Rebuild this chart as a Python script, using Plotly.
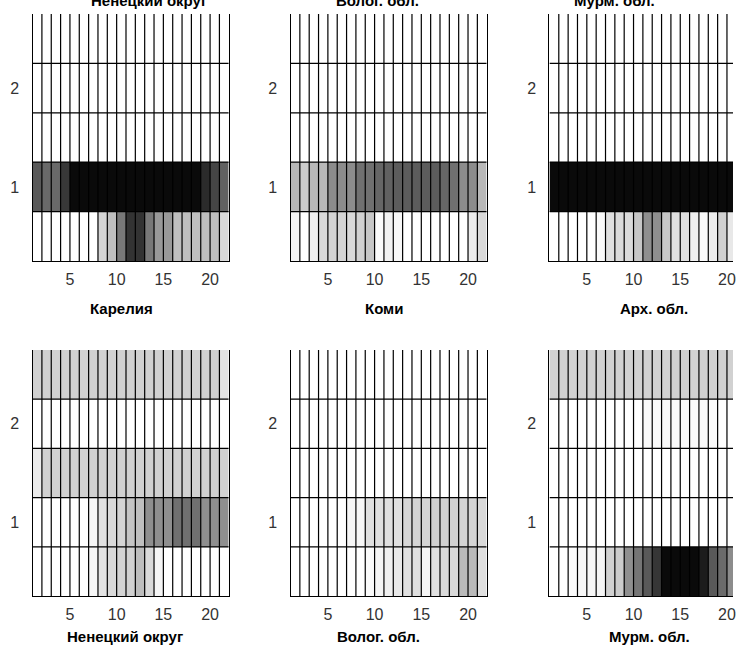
import plotly.graph_objects as go

# ---------------- data ----------------
# darkness in percent (0 = white, 100 = black); rows listed top -> bottom (y = 2.5, 2, 1.5, 1, 0.5)
x_edges = list(range(1, 23))
y_edges = [0.25, 0.75, 1.25, 1.75, 2.25, 2.75]
x_ticks = [5, 10, 15, 20]
y_ticks = [1, 2]

top_titles = ["Ненецкий округ", "Волог. обл.", "Мурм. обл."]
mid_titles = ["Карелия", "Коми", "Арх. обл."]
bottom_titles = ["Ненецкий округ", "Волог. обл.", "Мурм. обл."]

nenets_top = [
    [0] * 21,
    [0] * 21,
    [0] * 21,
    [65, 59, 59, 78] + [96] * 14 + [83, 73, 62],
    [0] * 7 + [17, 25, 53, 80, 80, 53, 40, 40] + [25] * 5 + [15],
]
vologda_top = [
    [0] * 21,
    [0] * 21,
    [0] * 21,
    [28, 20, 28, 28, 45, 45, 45, 56, 56, 60, 62, 64, 64, 64, 64, 64, 60, 56, 45, 45, 28],
    [4, 0, 6, 15, 17, 17, 15, 18, 22, 2, 5, 3, 0, 0, 0, 0, 0, 0, 0, 8, 15],
]
murmansk_top = [
    [0] * 21,
    [0] * 21,
    [0] * 21,
    [96] * 21,
    [0, 0, 0, 0, 0, 2, 12, 14, 14, 22, 44, 44, 22, 12, 12, 6, 2, 7, 18, 9, 12],
]
karelia = [
    [18] * 20 + [11],
    [0] * 21,
    [8] + [18] * 20,
    [0] * 6 + [3, 12, 15, 17, 23, 25, 44, 44, 44, 56, 56, 56, 44, 44, 44],
    [0] * 6 + [3, 11, 15, 17, 18, 26, 15, 4] + [0] * 7,
]
komi = [
    [0] * 21,
    [0] * 21,
    [0] * 21,
    [0] * 6 + [3, 3, 12, 12, 12, 12, 16, 17, 17, 18, 18, 18, 17, 17, 15],
    [0] * 8 + [2, 4, 6, 9, 12, 12, 4, 12, 14, 15, 27, 27, 12],
]
arkh = [
    [18] * 21,
    [0] * 10 + [2] * 8 + [0] * 3,
    [0] * 21,
    [0] * 21,
    [0, 0, 2, 3, 3, 4, 18, 20, 44, 54, 65, 79, 96, 96, 96, 96, 89, 65, 58, 45, 31],
]
panels = [nenets_top, vologda_top, murmansk_top, karelia, komi, arkh]

# ---------------- layout geometry (pixels) ----------------
W, H = 736, 645
col_px = [(32.7, 229.7), (291.7, 488.7), (551.7, 748.7)]
row_px = [(14.0, 261.0), (350.0, 596.0)]
ncols = len(x_edges) - 1

fig = go.Figure()
layout = dict(width=W, height=H, margin=dict(l=0, r=0, t=0, b=0),
              paper_bgcolor="white", plot_bgcolor="white", showlegend=False)

tick_font = dict(family="Liberation Sans, Arial, sans-serif", size=16, color="#333333")
line_col = "#000000"

for i, z in enumerate(panels):
    r, c = divmod(i, 3)
    k = i + 1
    xs = "" if k == 1 else str(k)
    x0, x1 = col_px[c]
    y0, y1 = row_px[r]
    x1v = min(x1, W)
    cell = (x1 - x0) / ncols
    xmax = x_edges[0] + (x1v - x0) / cell

    fig.add_trace(go.Heatmap(
        z=z[::-1], x=x_edges, y=y_edges,
        colorscale=[[0, "#ffffff"], [1, "#000000"]], zmin=0, zmax=100,
        showscale=False, hoverinfo="skip",
        xaxis="x" + xs, yaxis="y" + xs))

    gx, gy = [], []
    for xe in x_edges[1:-1]:
        gx += [xe, xe, None]
        gy += [y_edges[0], y_edges[-1], None]
    for ye in y_edges[1:-1]:
        gx += [x_edges[0], x_edges[-1], None]
        gy += [ye, ye, None]
    fig.add_trace(go.Scatter(x=gx, y=gy, mode="lines",
                             line=dict(color=line_col, width=1.2),
                             hoverinfo="skip", xaxis="x" + xs, yaxis="y" + xs))

    layout["xaxis" + xs] = dict(
        domain=[x0 / W, x1v / W], range=[x_edges[0], xmax], anchor="y" + xs,
        tickvals=x_ticks, ticktext=[str(t) for t in x_ticks],
        showgrid=False, zeroline=False, showline=True, linecolor=line_col,
        linewidth=1.2, ticks="", tickfont=tick_font, ticklabelstandoff=4,
        ticklabeloverflow="allow")
    layout["yaxis" + xs] = dict(
        domain=[1 - y1 / H, 1 - y0 / H], range=[y_edges[0], y_edges[-1]],
        anchor="x" + xs, tickvals=y_ticks, ticktext=[str(t) for t in y_ticks],
        showgrid=False, zeroline=False, showline=True, mirror=(c < 2),
        linecolor=line_col, linewidth=1.2, ticks="", tickfont=tick_font,
        ticklabelstandoff=9)

title_font = dict(family="Liberation Sans, Arial, sans-serif", size=15,
                  color="black", weight="bold")
ann = []
for t, xc in zip(top_titles, [150, 379, 617]):
    ann.append(dict(text=t, x=xc / W, y=1 - 1 / H, xref="paper", yref="paper",
                    xanchor="center", yanchor="middle", showarrow=False, font=title_font))
for t, xc in zip(mid_titles, [122, 386, 657]):
    ann.append(dict(text=t, x=xc / W, y=1 - 308 / H, xref="paper", yref="paper",
                    xanchor="center", yanchor="middle", showarrow=False, font=title_font))
for t, xc in zip(bottom_titles, [126, 380, 652]):
    ann.append(dict(text=t, x=xc / W, y=1 - 636 / H, xref="paper", yref="paper",
                    xanchor="center", yanchor="middle", showarrow=False, font=title_font))
layout["annotations"] = ann

fig.update_layout(**layout)
fig.write_html("out.html")
